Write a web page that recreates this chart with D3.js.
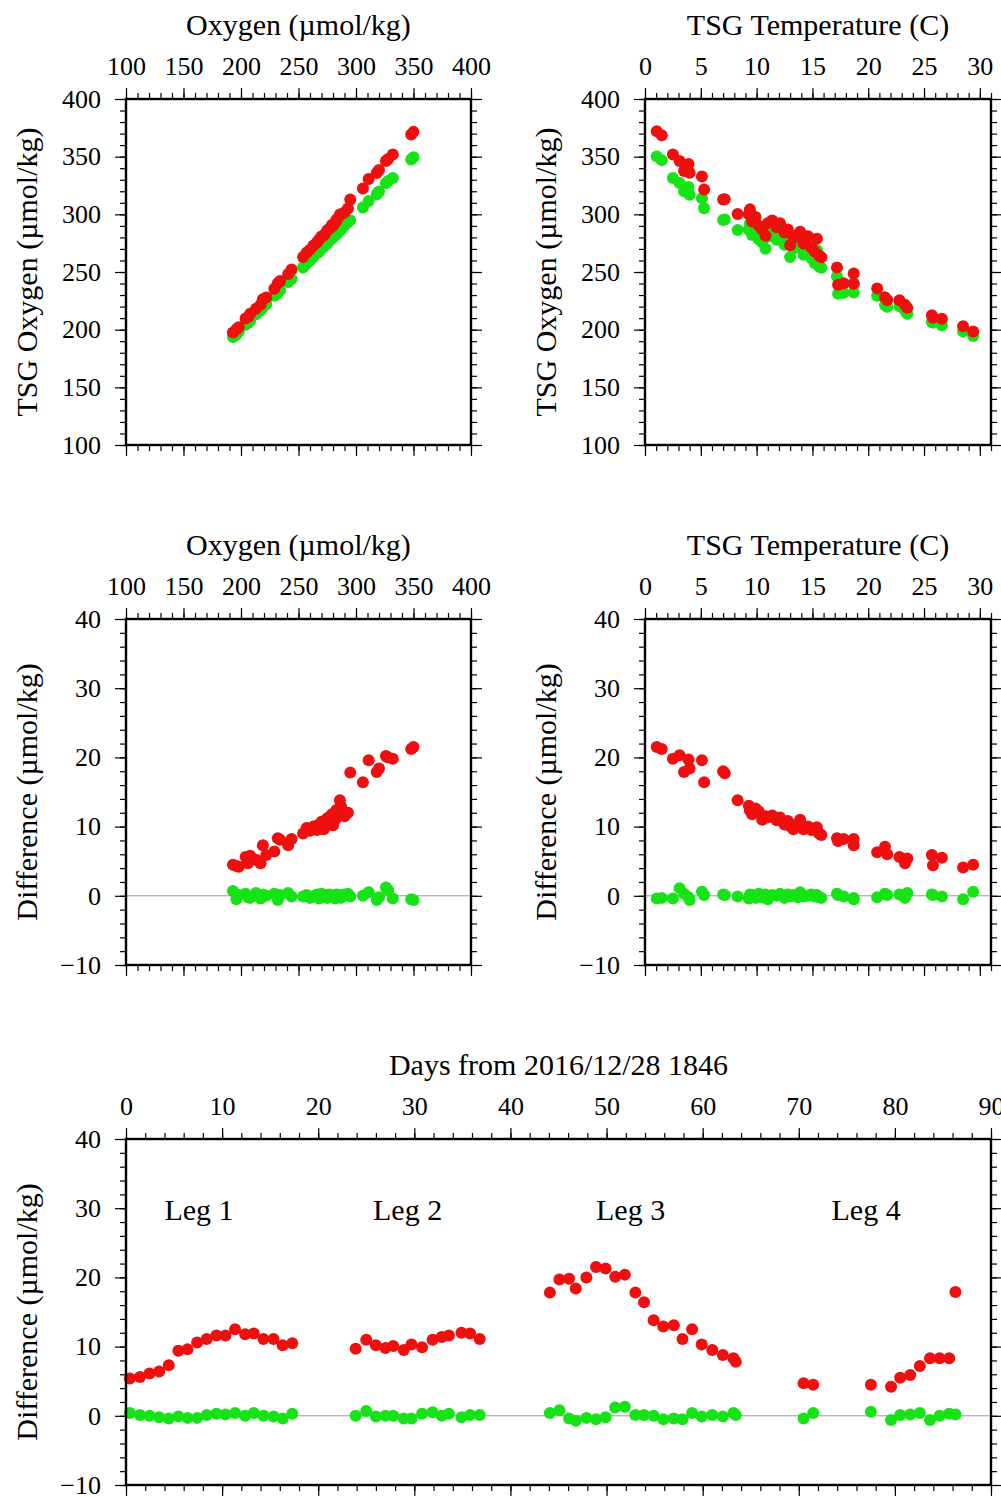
<!DOCTYPE html>
<html>
<head>
<meta charset="utf-8">
<script src="https://cdn.jsdelivr.net/npm/d3@7"></script>
<style>
  body { margin: 0; background: #ffffff; }
  svg { display: block; font-family: "Liberation Serif", "Times New Roman", serif; }
</style>
</head>
<body>
<div id="chart"></div>
<script>

//--------------------------------------------------------------------------
//
// Data
//

// Panels 1 and 3: samples placed by reference oxygen (umol/kg)
var oxyOxygen = [193, 196, 198, 204, 206, 208, 213, 217, 219, 222,
  229, 232, 234, 241, 244, 254, 257, 260, 263, 266,
  268, 270, 272, 273, 275, 277, 279, 280, 282, 283,
  284, 286, 287, 290, 293, 295, 306, 311, 318, 320,
  326, 328, 332, 348, 350];
var oxyDiffRed = [4.5, 4.3, 4.2, 5.6, 4.7, 5.8, 5.2, 4.7, 7.3, 5.9,
  6.4, 8.3, 8.1, 7.3, 8.2, 9.0, 9.8, 9.4, 10.0, 9.5,
  10.3, 10.7, 9.6, 10.0, 11.2, 10.4, 11.8, 10.2, 11.0, 12.4,
  12.0, 13.8, 12.9, 11.5, 12.0, 17.8, 16.4, 19.6, 17.9, 18.4,
  20.2, 20.0, 19.8, 21.2, 21.5];
var oxyDiffGreen = [0.7, -0.5, 0.1, 0.3, -0.2, -0.3, 0.4, -0.4, 0.2, 0.0,
  0.3, -0.6, 0.1, 0.4, -0.1, -0.1, 0.1, -0.3, -0.1, 0.2,
  -0.4, 0.3, -0.2, 0.1, -0.3, 0.2, -0.1, 0.0, -0.4, 0.2,
  -0.2, 0.1, -0.3, 0.2, 0.3, -0.1, 0.0, 0.5, -0.6, -0.2,
  1.2, 0.8, -0.4, -0.5, -0.6];

// Panels 2 and 4: samples placed by TSG temperature (C)
var tempC = [1.05, 1.5, 2.5, 3.1, 3.5, 3.9, 4.0, 5.1, 5.3, 7.0, 7.15, 8.3,
  9.3, 9.4, 9.6, 9.9, 10.2, 10.5, 10.8, 11.0, 11.4, 11.8,
  12.1, 12.5, 12.8, 13.0, 13.3, 13.7, 13.9, 14.2, 14.6, 14.9,
  15.2, 15.4, 15.6, 15.8,
  17.2, 17.3, 17.8, 18.7, 18.7, 20.8, 21.5, 21.7, 22.8, 23.3,
  23.5, 25.7, 25.8, 26.6, 28.5, 29.4];
var tempOxygen = [350.5, 347.3, 332, 326, 319.7, 324, 317.6, 313.3, 305.1, 294.9, 295.4, 286.5,
  287, 292, 282, 285, 278, 276, 270, 281, 283, 278,
  281, 274, 276, 263, 270, 272, 274, 265, 271, 262,
  258, 269, 255, 254,
  245.7, 231, 232, 240.6, 232.5, 229.5, 221, 219.8, 220, 216.8,
  213.5, 206.5, 206, 204, 198.8, 194];
var tempDiffRed = [21.5, 21.2, 19.8, 20.3, 17.9, 19.7, 18.4, 19.6, 16.4, 18.0, 17.7, 13.8,
  13.0, 12.3, 11.8, 12.6, 12.2, 11.0, 11.5, 11.3, 11.6, 10.9,
  11.3, 10.3, 10.8, 10.1, 9.6, 10.4, 11.0, 9.6, 10.0, 9.5,
  9.7, 9.9, 9.0, 8.8,
  8.3, 7.9, 8.2, 8.2, 7.3, 6.3, 7.1, 6.0, 5.6, 4.7,
  5.4, 5.9, 4.4, 5.5, 4.1, 4.5];
var tempDiffGreen = [-0.4, -0.3, -0.4, 1.1, 0.3, -0.2, -0.6, 0.6, 0.1, 0.2, 0.1, -0.1,
  -0.4, 0.2, 0.1, -0.3, 0.3, -0.2, 0.2, -0.5, 0.1, 0.0,
  0.3, -0.3, 0.2, -0.1, 0.1, -0.2, 0.5, -0.1, 0.0, 0.2,
  -0.1, 0.1, -0.2, -0.3,
  0.3, 0.1, -0.1, -0.5, -0.3, -0.2, 0.3, 0.1, 0.2, -0.3,
  0.4, 0.2, 0.1, -0.1, -0.5, 0.6];

// Panel 5: days from 2016/12/28 1846
var dayOffsets = [0.4, 1.45, 2.45, 3.45, 4.45, 5.45, 6.4, 7.4, 8.4, 9.4, 10.35, 11.35, 12.4, 13.3, 14.3, 15.35, 16.3, 17.3,
  23.9, 25.0, 26.0, 27.0, 27.8, 28.9, 29.7, 30.8, 31.9, 32.85, 33.6, 34.9, 35.8, 36.8,
  44.1, 45.1, 46.1, 46.8, 47.9, 48.9, 49.9, 50.9, 51.9, 53.0, 53.9, 54.9, 55.9, 57.0, 57.9, 58.9, 59.9, 61.0, 62.1, 63.2, 63.45,
  70.5, 71.5, 77.5, 79.6, 80.55, 81.6, 82.6, 83.65, 84.65, 85.65, 86.3];
var dayDiffRed = [5.4, 5.6, 6.1, 6.4, 7.3, 9.4, 9.6, 10.6, 11.1, 11.6, 11.6, 12.5, 11.8, 11.9, 11.1, 11.1, 10.2, 10.5,
  9.7, 11.0, 10.2, 9.8, 10.1, 9.5, 10.3, 9.9, 11.0, 11.4, 11.6, 12.0, 11.9, 11.1,
  17.8, 19.7, 19.8, 18.4, 20.0, 21.5, 21.3, 20.1, 20.4, 17.8, 16.4, 13.8, 12.9, 13.1, 11.1, 12.5, 10.3, 9.5, 8.8, 8.3, 7.8,
  4.7, 4.5, 4.5, 4.2, 5.5, 5.9, 7.2, 8.3, 8.3, 8.3, 17.9];
var dayDiffGreen = [0.4, 0.1, 0.0, -0.2, -0.4, -0.1, -0.3, -0.3, 0.1, 0.3, 0.2, 0.4, 0.0, 0.4, 0.0, -0.1, -0.4, 0.3,
  0.0, 0.7, -0.1, 0.0, 0.0, -0.4, -0.4, 0.3, 0.5, 0.0, 0.3, -0.2, 0.1, 0.1,
  0.4, 0.8, -0.4, -0.7, -0.3, -0.5, -0.2, 1.2, 1.3, 0.1, 0.1, 0.0, -0.5, -0.4, -0.5, 0.4, -0.1, 0.1, -0.1, 0.4, 0.1,
  -0.4, 0.4, 0.6, -0.6, 0.1, 0.2, 0.4, -0.6, 0.0, 0.3, 0.2];

var legNames = ["Leg 1", "Leg 2", "Leg 3", "Leg 4"];
var legDays = [7.6, 29.3, 52.5, 77.0];
var legLevel = 28.3;

// Tick labels
var oxygenTicks = [100, 150, 200, 250, 300, 350, 400];
var temperatureTicks = [0, 5, 10, 15, 20, 25, 30];
var differenceTicks = [-10, 0, 10, 20, 30, 40];
var dayTicks = [0, 10, 20, 30, 40, 50, 60, 70, 80, 90];


//--------------------------------------------------------------------------
//
// Geometry and style
//

var chartGeometry = {
  width: 1001,
  height: 1497,
  smallWidth: 345,
  wideWidth: 865,
  plotHeight: 346,
  colLeft: [126, 645],
  rowTop: [99, 619, 1139]
};

var chartStyle = {
  red: "#ee0f0f",
  green: "#16e316",
  dotRadius: 6,
  frameWidth: 2.4,
  tickWidth: 1.2,
  majorTick: 11,
  minorTick: 6,
  annotFont: 26,
  labelFont: 30
};

var svg = d3.select("#chart").append("svg")
    .attr("width", chartGeometry.width)
    .attr("height", chartGeometry.height);

svg.append("rect")
    .attr("width", chartGeometry.width)
    .attr("height", chartGeometry.height)
    .attr("fill", "#ffffff");

function pairs(xs, ys) {
  return xs.map(function(d, i) { return [d, ys[i]]; });
}

function sums(base, delta) {
  return base.map(function(d, i) { return d + delta[i]; });
}


//--------------------------------------------------------------------------
//
// One framed panel: ticks outside on all four sides, labels top and left
//

function drawPanel(p) {
  var g = svg.append("g")
      .attr("transform", "translate(" + p.left + "," + p.top + ")");

  var x = d3.scaleLinear().domain(p.xDomain).range([0, p.width]);
  var y = d3.scaleLinear().domain(p.yDomain).range([p.height, 0]);

  function styleAxis(sel) {
    sel.select(".domain").remove();
    sel.selectAll(".tick line")
        .attr("stroke", "#000")
        .attr("stroke-width", chartStyle.tickWidth);
    sel.selectAll(".tick text")
        .attr("fill", "#000")
        .style("font-size", chartStyle.annotFont + "px")
        .style("font-family", "'Liberation Serif', serif");
  }

  var fmt = d3.format("d");

  // minor ticks
  g.append("g")
      .call(d3.axisTop(x).tickValues(p.xMinor).tickSize(chartStyle.minorTick).tickFormat(""))
      .call(styleAxis);
  g.append("g")
      .attr("transform", "translate(0," + p.height + ")")
      .call(d3.axisBottom(x).tickValues(p.xMinor).tickSize(chartStyle.minorTick).tickFormat(""))
      .call(styleAxis);
  g.append("g")
      .call(d3.axisLeft(y).tickValues(p.yMinor).tickSize(chartStyle.minorTick).tickFormat(""))
      .call(styleAxis);
  g.append("g")
      .attr("transform", "translate(" + p.width + ",0)")
      .call(d3.axisRight(y).tickValues(p.yMinor).tickSize(chartStyle.minorTick).tickFormat(""))
      .call(styleAxis);

  // major ticks
  g.append("g")
      .call(d3.axisTop(x).tickValues(p.xTicks).tickSize(chartStyle.majorTick).tickPadding(13).tickFormat(fmt))
      .call(styleAxis);
  g.append("g")
      .attr("transform", "translate(0," + p.height + ")")
      .call(d3.axisBottom(x).tickValues(p.xTicks).tickSize(chartStyle.majorTick).tickFormat(""))
      .call(styleAxis);
  g.append("g")
      .call(d3.axisLeft(y).tickValues(p.yTicks).tickSize(chartStyle.majorTick).tickPadding(14).tickFormat(fmt))
      .call(styleAxis);
  g.append("g")
      .attr("transform", "translate(" + p.width + ",0)")
      .call(d3.axisRight(y).tickValues(p.yTicks).tickSize(chartStyle.majorTick).tickFormat(""))
      .call(styleAxis);

  // zero line for the difference panels
  if (p.zeroLine) {
    g.append("line")
        .attr("x1", 0)
        .attr("x2", p.width)
        .attr("y1", y(0))
        .attr("y2", y(0))
        .attr("stroke", "#9a9a9a")
        .attr("stroke-width", 1);
  }

  // dots, green under red
  [["green", p.green], ["red", p.red]].forEach(function(s) {
    g.append("g").selectAll("circle")
        .data(s[1])
        .join("circle")
        .attr("cx", function(d) { return x(d[0]); })
        .attr("cy", function(d) { return y(d[1]); })
        .attr("r", chartStyle.dotRadius)
        .attr("fill", chartStyle[s[0]]);
  });

  if (p.notes) {
    g.append("g").selectAll("text")
        .data(p.notes)
        .join("text")
        .attr("x", function(d) { return x(d[0]); })
        .attr("y", function(d) { return y(d[1]); })
        .attr("text-anchor", "middle")
        .style("font-size", chartStyle.labelFont + "px")
        .text(function(d) { return d[2]; });
  }

  g.append("rect")
      .attr("width", p.width)
      .attr("height", p.height)
      .attr("fill", "none")
      .attr("stroke", "#000")
      .attr("stroke-width", chartStyle.frameWidth);

  g.append("text")
      .attr("x", p.width / 2)
      .attr("y", -64)
      .attr("text-anchor", "middle")
      .style("font-size", chartStyle.labelFont + "px")
      .text(p.xTitle);

  g.append("text")
      .attr("transform", "translate(-89," + (p.height / 2) + ") rotate(-90)")
      .attr("text-anchor", "middle")
      .style("font-size", chartStyle.labelFont + "px")
      .text(p.yTitle);
}


//--------------------------------------------------------------------------
//
// The five panels
//

var oxygenMinor = d3.range(100, 401, 10);
var temperatureMinor = d3.range(0, 32, 1);
var differenceMinor = d3.range(-10, 41, 2);
var dayMinor = d3.range(0, 91, 2);

var oxyLabel = "Oxygen (\u00b5mol/kg)";
var tsgLabel = "TSG Oxygen (\u00b5mol/kg)";
var tempLabel = "TSG Temperature (C)";
var diffLabel = "Difference (\u00b5mol/kg)";

drawPanel({
  left: chartGeometry.colLeft[0], top: chartGeometry.rowTop[0],
  width: chartGeometry.smallWidth, height: chartGeometry.plotHeight,
  xDomain: [100, 400], yDomain: [100, 400],
  xTicks: oxygenTicks, xMinor: oxygenMinor, yTicks: oxygenTicks, yMinor: oxygenMinor,
  xTitle: oxyLabel, yTitle: tsgLabel,
  green: pairs(oxyOxygen, sums(oxyOxygen, oxyDiffGreen)),
  red: pairs(oxyOxygen, sums(oxyOxygen, oxyDiffRed))
});

drawPanel({
  left: chartGeometry.colLeft[1], top: chartGeometry.rowTop[0],
  width: chartGeometry.smallWidth + 1, height: chartGeometry.plotHeight,
  xDomain: [0, 31], yDomain: [100, 400],
  xTicks: temperatureTicks, xMinor: temperatureMinor, yTicks: oxygenTicks, yMinor: oxygenMinor,
  xTitle: tempLabel, yTitle: tsgLabel,
  green: pairs(tempC, sums(tempOxygen, tempDiffGreen)),
  red: pairs(tempC, sums(tempOxygen, tempDiffRed))
});

drawPanel({
  left: chartGeometry.colLeft[0], top: chartGeometry.rowTop[1],
  width: chartGeometry.smallWidth, height: chartGeometry.plotHeight,
  xDomain: [100, 400], yDomain: [-10, 40],
  xTicks: oxygenTicks, xMinor: oxygenMinor, yTicks: differenceTicks, yMinor: differenceMinor,
  xTitle: oxyLabel, yTitle: diffLabel, zeroLine: true,
  green: pairs(oxyOxygen, oxyDiffGreen),
  red: pairs(oxyOxygen, oxyDiffRed)
});

drawPanel({
  left: chartGeometry.colLeft[1], top: chartGeometry.rowTop[1],
  width: chartGeometry.smallWidth + 1, height: chartGeometry.plotHeight,
  xDomain: [0, 31], yDomain: [-10, 40],
  xTicks: temperatureTicks, xMinor: temperatureMinor, yTicks: differenceTicks, yMinor: differenceMinor,
  xTitle: tempLabel, yTitle: diffLabel, zeroLine: true,
  green: pairs(tempC, tempDiffGreen),
  red: pairs(tempC, tempDiffRed)
});

drawPanel({
  left: chartGeometry.colLeft[0], top: chartGeometry.rowTop[2],
  width: chartGeometry.wideWidth, height: chartGeometry.plotHeight,
  xDomain: [0, 90], yDomain: [-10, 40],
  xTicks: dayTicks, xMinor: dayMinor, yTicks: differenceTicks, yMinor: differenceMinor,
  xTitle: "Days from 2016/12/28 1846", yTitle: diffLabel, zeroLine: true,
  green: pairs(dayOffsets, dayDiffGreen),
  red: pairs(dayOffsets, dayDiffRed),
  notes: legNames.map(function(n, i) { return [legDays[i], legLevel, n]; })
});

</script>
</body>
</html>
